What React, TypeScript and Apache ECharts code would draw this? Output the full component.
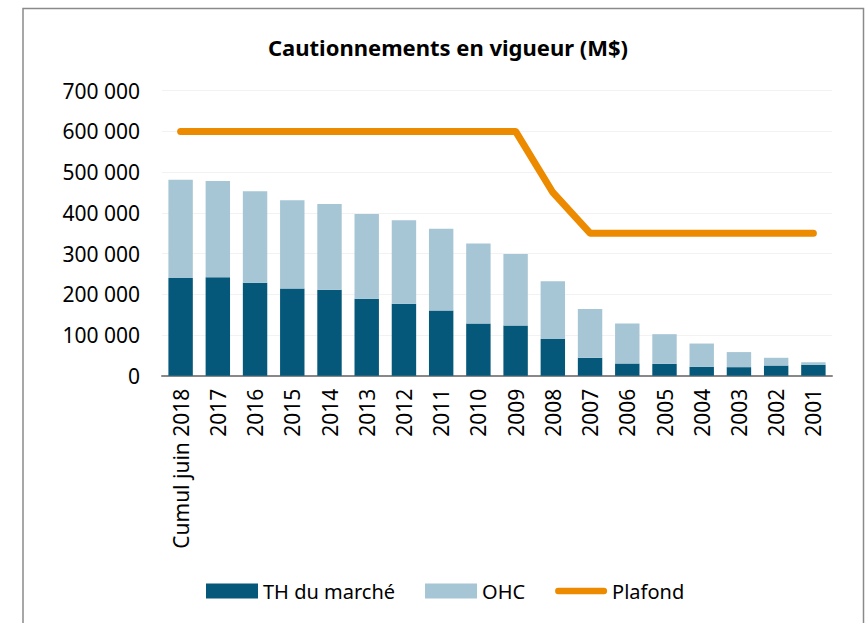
import React, { useEffect, useRef } from "react";
import * as echarts from "echarts";

const categories = ["Cumul juin 2018", "2017", "2016", "2015", "2014", "2013", "2012", "2011", "2010", "2009", "2008", "2007", "2006", "2005", "2004", "2003", "2002", "2001"];
const thMarche = [240000, 242000, 228000, 214000, 211000, 189000, 177000, 160000, 128000, 123000, 90000, 44000, 30000, 29000, 22000, 21000, 25000, 27000];
const ohc = [241000, 236000, 225000, 217000, 211000, 208000, 205000, 201000, 197000, 176000, 142000, 120000, 98000, 73000, 57000, 37000, 19000, 6000];
const plafond = [600000, 600000, 600000, 600000, 600000, 600000, 600000, 600000, 600000, 600000, 450000, 350000, 350000, 350000, 350000, 350000, 350000, 350000];

const FONT = "Noto Sans";
const LINE_ICON = "path://M3.5,0 L52.5,0 A3.5,3.5 0 0 1 52.5,7 L3.5,7 A3.5,3.5 0 0 1 3.5,0 Z";

function fmt(v: number): string {
  return String(v).replace(/\B(?=(\d{3})+(?!\d))/g, " ");
}

export default function App() {
  const ref = useRef<HTMLDivElement>(null);
  useEffect(() => {
    if (!ref.current) return;
    const chart = echarts.init(ref.current, null, { renderer: "svg" });
    chart.setOption({
      animation: false,
      backgroundColor: "#ffffff",
      textStyle: { fontFamily: FONT },
      title: {
        text: "Cautionnements en vigueur (M$)",
        left: 443,
        textAlign: "center",
        top: 31,
        textStyle: { fontFamily: FONT, fontWeight: "bold", fontSize: 22, color: "#000" },
      },
      graphic: [
        {
          type: "rect",
          shape: { x: 23, y: 8.5, width: 840.5, height: 700 },
          style: { fill: "none", stroke: "#8a8a8a", lineWidth: 1.5 },
          silent: true,
        },
      ],
      legend: {
        left: 201,
        top: 576,
        itemGap: 30,
        itemWidth: 52,
        itemHeight: 15,
        textStyle: { fontFamily: FONT, fontSize: 20, color: "#000" },
        data: [
          { name: "TH du marché", icon: "rect" },
          { name: "OHC", icon: "rect" },
          { name: "Plafond", icon: LINE_ICON },
        ],
      },
      grid: { left: 162, right: 33, top: 90.7, bottom: 247.3, containLabel: false },
      xAxis: {
        type: "category",
        data: categories,
        axisLine: { show: true, lineStyle: { color: "#888888", width: 2 } },
        axisTick: { show: false },
        axisLabel: {
          rotate: 90,
          margin: 13,
          interval: 0,
          fontFamily: FONT,
          fontSize: 21,
          color: "#000",
        },
      },
      yAxis: {
        type: "value",
        min: 0,
        max: 700000,
        interval: 100000,
        axisLine: { show: false },
        axisTick: { show: false },
        splitLine: { show: true, lineStyle: { color: "#f2f2f2", width: 1 } },
        axisLabel: {
          margin: 22,
          fontFamily: FONT,
          fontSize: 21,
          color: "#000",
          formatter: (v: number) => fmt(v),
        },
      },
      series: [
        {
          name: "TH du marché",
          type: "bar",
          stack: "total",
          data: thMarche,
          barWidth: "65.6%",
          itemStyle: { color: "#05587A" },
        },
        {
          name: "OHC",
          type: "bar",
          stack: "total",
          data: ohc,
          barWidth: "65.6%",
          itemStyle: { color: "#A6C6D5" },
        },
        {
          name: "Plafond",
          type: "line",
          data: plafond,
          symbol: "none",
          showSymbol: false,
          z: 5,
          lineStyle: { color: "#EC8B00", width: 7, cap: "round", join: "round" },
          itemStyle: { color: "#EC8B00" },
        },
      ],
    });
    return () => chart.dispose();
  }, []);
  return (
    <div
      ref={ref}
      style={{ position: "absolute", left: 0, top: 0, width: 865, height: 623, background: "#fff" }}
    />
  );
}
